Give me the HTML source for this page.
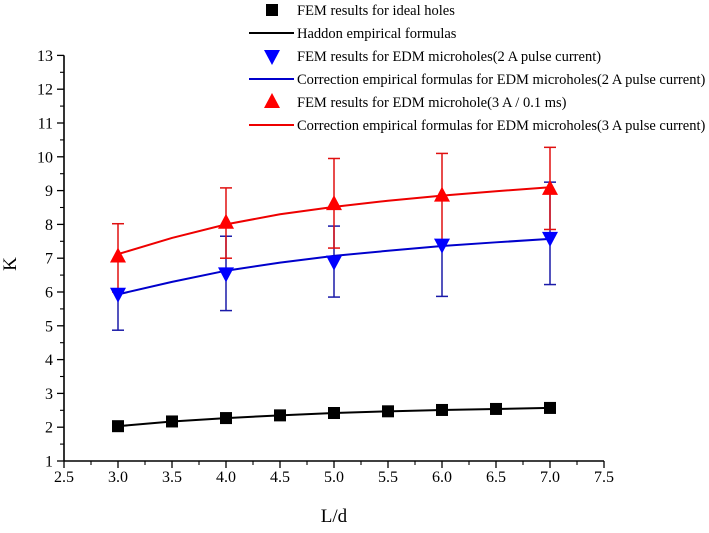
<!DOCTYPE html>
<html><head><meta charset="utf-8"><style>
html,body{margin:0;padding:0;background:#fff}
svg{display:block;font-family:"Liberation Serif",serif}
</style></head><body>
<svg id="chart" width="709" height="533" viewBox="0 0 709 533">
<g id="legend"></g>
<g id="axes"></g>
<g id="plot"></g>
<text x="16" y="264" font-size="19" text-anchor="middle" transform="rotate(-90 16 264)">K</text>
<text x="334" y="522" font-size="19" text-anchor="middle">L/d</text>
</svg>
<script>
const xTicks=[2.5,3.0,3.5,4.0,4.5,5.0,5.5,6.0,6.5,7.0,7.5];
const yTicks=[1,2,3,4,5,6,7,8,9,10,11,12,13];
const idealX=[3,3.5,4,4.5,5,5.5,6,6.5,7];
const idealK=[2.03,2.17,2.27,2.35,2.42,2.47,2.51,2.54,2.57];
const edmX=[3,4,5,6,7];
const blueK=[5.95,6.55,6.9,7.4,7.6];
const blueHi=[6.05,7.65,7.95,7.5,9.25];
const blueLo=[4.87,5.45,5.85,5.87,6.22];
const redK=[7.05,8.05,8.6,8.85,9.05];
const redHi=[8.02,9.08,9.95,10.1,10.28];
const redLo=[6.0,7.0,7.3,7.5,7.85];
const fitX=[3,3.5,4,4.5,5,5.5,6,6.5,7];
const blueFit=[5.93,6.3,6.63,6.87,7.07,7.22,7.36,7.47,7.57];
const redFit=[7.12,7.6,8.0,8.3,8.52,8.7,8.85,8.98,9.1];
const legendLabels=["FEM results for ideal holes","Haddon empirical formulas","FEM results for EDM microholes(2 A pulse current)","Correction empirical formulas for EDM microholes(2 A pulse current)","FEM results for EDM microhole(3 A / 0.1 ms)","Correction empirical formulas for EDM microholes(3 A pulse current)"];

const NS="http://www.w3.org/2000/svg";
const X=v=>64+(v-2.5)*108;
const Y=v=>461-(v-1)*33.8;
function mk(p,t,a){const e=document.createElementNS(NS,t);for(const k in a)e.setAttribute(k,a[k]);p.appendChild(e);return e;}
const axes=document.getElementById('axes'),plot=document.getElementById('plot'),leg=document.getElementById('legend');
let e;
e=mk(axes,'line',{x1:X(2.5),y1:Y(1),x2:X(7.5),y2:Y(1),stroke:'#000','stroke-width':1.6});

e=mk(axes,'line',{x1:X(2.5),y1:Y(1),x2:X(2.5),y2:Y(13),stroke:'#000','stroke-width':1.6});

xTicks.forEach((t,i)=>{
 mk(axes,'line',{x1:X(t),y1:Y(1),x2:X(t),y2:Y(1)+7,stroke:'#000','stroke-width':1.3});
 if(i<xTicks.length-1)mk(axes,'line',{x1:X(t+0.25),y1:Y(1),x2:X(t+0.25),y2:Y(1)+4,stroke:'#000','stroke-width':1.1});
 e=mk(axes,'text',{x:X(t),y:482,'font-size':16,'text-anchor':'middle'});e.textContent=t.toFixed(1);
 
});
yTicks.forEach((t,i)=>{
 mk(axes,'line',{x1:X(2.5)-7,y1:Y(t),x2:X(2.5),y2:Y(t),stroke:'#000','stroke-width':1.3});
 if(i<yTicks.length-1)mk(axes,'line',{x1:X(2.5)-4,y1:Y(t+0.5),x2:X(2.5),y2:Y(t+0.5),stroke:'#000','stroke-width':1.1});
 e=mk(axes,'text',{x:X(2.5)-11,y:Y(t)+5.5,'font-size':16,'text-anchor':'end'});e.textContent=t;
 
});
function line(xs,ys,c,name){e=mk(plot,'polyline',{points:xs.map((x,i)=>X(x)+','+Y(ys[i])).join(' '),fill:'none',stroke:c,'stroke-width':2});
 }
function err(xs,hi,lo,c,name){xs.forEach((x,i)=>{const g=mk(plot,'g',{stroke:c,'stroke-width':1.5});
 
 mk(g,'line',{x1:X(x),y1:Y(hi[i]),x2:X(x),y2:Y(lo[i])});
 mk(g,'line',{x1:X(x)-6,y1:Y(hi[i]),x2:X(x)+6,y2:Y(hi[i])});
 mk(g,'line',{x1:X(x)-6,y1:Y(lo[i]),x2:X(x)+6,y2:Y(lo[i])});});}
function tri(p,cx,cy,up,c){const s=8;return mk(p,'polygon',{points:up?`${cx-s},${cy+6} ${cx+s},${cy+6} ${cx},${cy-9}`:`${cx-s},${cy-6} ${cx+s},${cy-6} ${cx},${cy+9}`,fill:c});}
err(edmX,blueHi,blueLo,'#1a1aa8','blue-error-bar');
err(edmX,redHi,redLo,'#e01010','red-error-bar');
line(idealX,idealK,'#000','haddon-curve');
line(fitX,blueFit,'#0000cc','blue-fit-curve');
line(fitX,redFit,'#ee0000','red-fit-curve');
idealX.forEach((x,i)=>{e=mk(plot,'rect',{x:X(x)-6,y:Y(idealK[i])-6,width:12,height:12,fill:'#000'});
 });
edmX.forEach((x,i)=>{e=tri(plot,X(x),Y(blueK[i]),false,'#0000ff');
 
 e=tri(plot,X(x),Y(redK[i]),true,'#ff0000');
 });
const rowsY=[10,33,56,79,102,125];
legendLabels.forEach((lab,i)=>{const y=rowsY[i];
 e=mk(leg,'text',{x:297,y:y+5,'font-size':14.5});e.textContent=lab;
 
 if(i===0)mk(leg,'rect',{x:266,y:y-6,width:12,height:12,fill:'#000'});
 if(i===1)mk(leg,'line',{x1:249,y1:y,x2:294,y2:y,stroke:'#000','stroke-width':2});
 if(i===2)tri(leg,272,y,false,'#0000ff');
 if(i===3)mk(leg,'line',{x1:249,y1:y,x2:294,y2:y,stroke:'#0000cc','stroke-width':2});
 if(i===4)tri(leg,272,y,true,'#ff0000');
 if(i===5)mk(leg,'line',{x1:249,y1:y,x2:294,y2:y,stroke:'#ee0000','stroke-width':2});
});
</script>
</body></html>
